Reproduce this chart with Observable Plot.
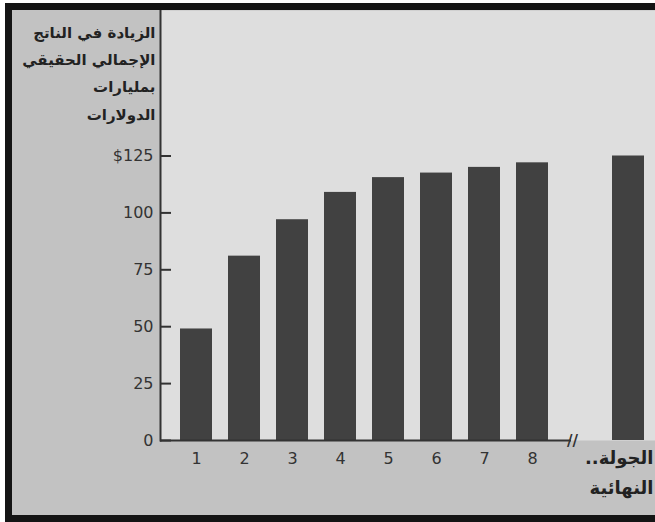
<!DOCTYPE html>
<html lang="ar">
<head>
<meta charset="utf-8">
<script src="https://cdn.jsdelivr.net/npm/d3@7"></script>
<script src="https://cdn.jsdelivr.net/npm/@observablehq/plot@0.6"></script>
<style>
  html, body { margin: 0; padding: 0; background: #ffffff; }
  #wrap { position: relative; width: 655px; height: 522px; overflow: hidden; }
  #wrap svg { position: absolute; left: 0; top: 0; }
  #border {
    position: absolute; left: 5px; top: 3px; width: 670px; height: 519px;
    box-sizing: border-box; border: 7px solid #141414;
    box-shadow: 0 0 0 6px #ffffff; pointer-events: none;
  }
</style>
</head>
<body>
<div id="wrap"><div id="border"></div></div>
<script>
// Rounds of spending and the cumulative rise in real GDP (billions of dollars)
const rounds = ["1", "2", "3", "4", "5", "6", "7", "8"];
const gdpIncrease = [49, 81, 97, 109, 115.5, 117.5, 120, 122];
const finalKey = "final";
const finalIncrease = 125;
const finalLabel = "الجولة..\u200F\nالنهائية";
const breakKey = "break";
const yTicks = [0, 25, 50, 75, 100, 125];
const titleLines = ["الزيادة في الناتج", "الإجمالي الحقيقي", "بمليارات", "الدولارات"];

const bars = rounds.map((r, i) => ({round: r, value: gdpIncrease[i]}));
bars.push({round: finalKey, value: finalIncrease});
const slots = [...rounds, breakKey, finalKey];

const chart = Plot.plot({
  width: 655,
  height: 522,
  marginTop: 10,
  marginLeft: 160,
  marginRight: 0,
  marginBottom: 82,
  style: {background: "#c2c2c2", fontFamily: "DejaVu Sans", fontSize: "16px", color: "#333333", overflow: "visible"},
  x: {domain: slots, range: [168, 656], paddingInner: 1 / 3, paddingOuter: 0.25, align: 0.5, axis: null, label: null},
  y: {domain: [0, 125], range: [440, 155.5], axis: null, label: null},
  marks: [
    Plot.frame({fill: "#dedede", stroke: null}),
    Plot.barY(bars, {x: "round", y: "value", fill: "#414141"}),
    // baseline, interrupted before the final round
    Plot.ruleY([0], {stroke: "#333333", strokeWidth: 2, insetRight: 84}),
    Plot.text(["//"], {x: () => breakKey, frameAnchor: "bottom", text: d => d, dx: -8, dy: 5, fontSize: 15, fontWeight: "bold", fill: "#333333"}),
    Plot.frame({anchor: "left", stroke: "#333333", strokeWidth: 2}),
    // short tick marks pointing into the plot
    Plot.tickY(yTicks, {y: d => d, stroke: "#333333", strokeWidth: 2, insetRight: 484}),
    Plot.axisY({ticks: yTicks, tickSize: 0, tickPadding: 7, tickFormat: d => (d === 125 ? "$125" : String(d)), fontSize: 16, label: null}),
    Plot.axisX({ticks: rounds, tickSize: 0, tickPadding: 12, fontSize: 16, label: null}),
    Plot.text([finalLabel], {x: () => finalKey, frameAnchor: "bottom", text: d => d, textAnchor: "end", lineAnchor: "top", dx: 25, dy: 2, fontSize: 18, fontWeight: "bold", lineHeight: 1.67, fill: "#222222"}),
    // axis title
    Plot.text([titleLines.join("\n")], {frameAnchor: "top-left", text: d => d, textAnchor: "end", lineAnchor: "top", dx: -5, dy: 8, fontSize: 15, fontWeight: "bold", lineHeight: 1.82, fill: "#222222"})
  ]
});

document.getElementById("wrap").prepend(chart);
</script>
</body>
</html>
